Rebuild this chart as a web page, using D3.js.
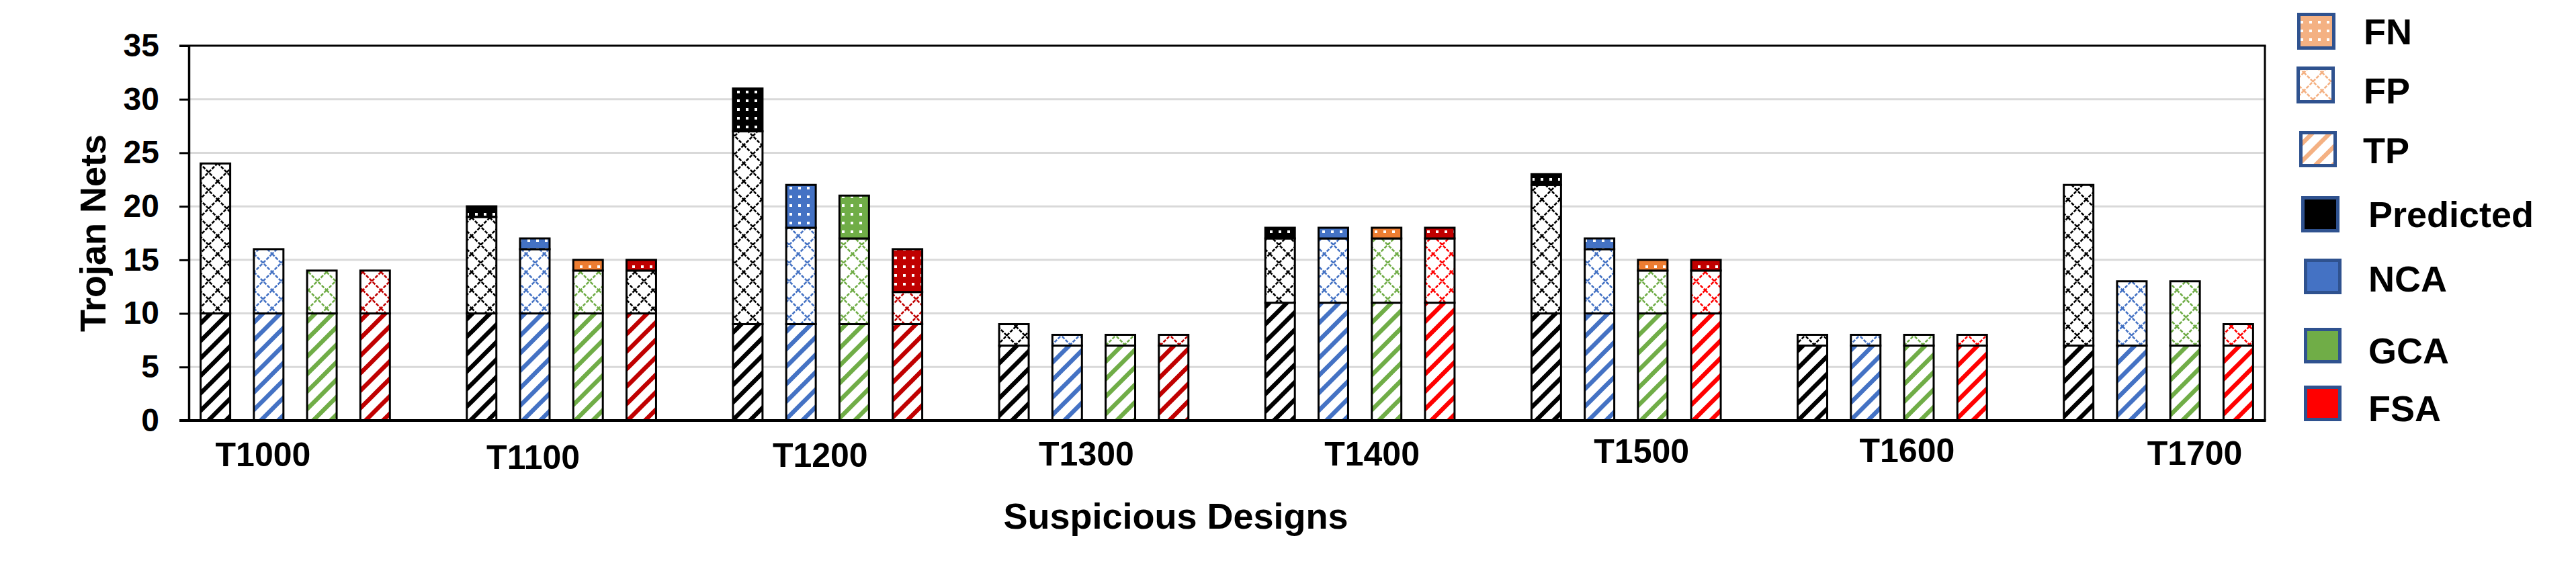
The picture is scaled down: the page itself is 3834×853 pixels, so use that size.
<!DOCTYPE html>
<html><head><meta charset="utf-8">
<script src="https://cdn.jsdelivr.net/npm/d3@7"></script>
<style>
body{margin:0;background:#fff}
svg text{font-family:"Liberation Sans",Arial,Helvetica,sans-serif;font-weight:bold;fill:#000}
</style>
</head><body>
<svg id="chart" width="3834" height="853"></svg>
<script>
// ---------------- DATA ----------------
const designs = ["T1000","T1100","T1200","T1300","T1400","T1500","T1600","T1700"];
const methods = ["Predicted","NCA","GCA","FSA"];
const segments = ["TP","FP","FN"];

const tpPredicted = [10,10,9,7,11,10,7,7];
const fpPredicted = [14,9,18,2,6,12,1,15];
const fnPredicted = [0,1,4,0,1,1,0,0];

const tpNCA = [10,10,9,7,11,10,7,7];
const fpNCA = [6,6,9,1,6,6,1,6];
const fnNCA = [0,1,4,0,1,1,0,0];

const tpGCA = [10,10,9,7,11,10,7,7];
const fpGCA = [4,4,8,1,6,4,1,6];
const fnGCA = [0,1,4,0,1,1,0,0];

const tpFSA = [10,10,9,7,11,10,7,7];
const fpFSA = [4,4,3,1,6,4,1,2];
const fnFSA = [0,1,4,0,1,1,0,0];

const yTicks = [0,5,10,15,20,25,30,35];
const legendLabels = ["FN","FP","TP","Predicted","NCA","GCA","FSA"];
const xTitle = "Suspicious Designs";
const yTitle = "Trojan Nets";

// ---------------- STYLE / LAYOUT ----------------
const methodColor = {Predicted:"#000000", NCA:"#4472C4", GCA:"#70AD47", FSA:"#FF0000"};
const darkRed = "#C00000", orange = "#ED7D31", peach = "#F4B183";
// per-segment colour quirks of the original figure
const colorOverrides = {
  "T1000|FSA|TP":darkRed, "T1000|FSA|FP":darkRed,
  "T1100|FSA|TP":darkRed, "T1100|FSA|FP":"#000000", "T1100|FSA|FN":darkRed,
  "T1200|FSA|TP":darkRed, "T1200|FSA|FP":darkRed, "T1200|FSA|FN":darkRed,
  "T1300|FSA|TP":darkRed, "T1300|FSA|FP":darkRed,
  "T1400|FSA|FN":darkRed, "T1500|FSA|FN":darkRed,
  "T1100|GCA|FN":orange, "T1400|GCA|FN":orange, "T1500|GCA|FN":orange
};
const labelOffsets = [-48,-42,-11,-11,18,23,22,54];
const labelBaselines = [694,698,695,693,693,689,688,692];
const legendBoxes = [
  {x:3419,y:19,w:57,h:55, tx:3518, ty:66},
  {x:3418,y:99,w:57,h:55, tx:3518, ty:154},
  {x:3422,y:195,w:56,h:54, tx:3517, ty:243},
  {x:3425,y:292,w:57,h:54, tx:3525, ty:338},
  {x:3429,y:385,w:56,h:53, tx:3525, ty:434},
  {x:3429,y:488,w:56,h:53, tx:3525, ty:541},
  {x:3429,y:574,w:56,h:53, tx:3525, ty:627}
];

const plot = {left:281, right:3371, top:68, bottom:626};

// ---------------- BUILD ----------------
const seriesTable = {
  Predicted:[tpPredicted,fpPredicted,fnPredicted],
  NCA:[tpNCA,fpNCA,fnNCA],
  GCA:[tpGCA,fpGCA,fnGCA],
  FSA:[tpFSA,fpFSA,fnFSA]
};
const rows = [];
designs.forEach((d,i)=>methods.forEach(m=>{
  const [tp,fp,fn] = seriesTable[m];
  rows.push({key:d+"|"+m, design:d, method:m, TP:tp[i], FP:fp[i], FN:fn[i]});
}));
const slotDomain = [];
designs.forEach((d,i)=>{
  methods.forEach(m=>slotDomain.push(d+"|"+m));
  if(i<designs.length-1) slotDomain.push("gap"+i);
});

const svg = d3.select("#chart");
const defs = svg.append("defs");

const x = d3.scaleBand().domain(slotDomain).range([plot.left,plot.right])
  .paddingInner(0.445).paddingOuter(0.2225);
const y = d3.scaleLinear().domain([0,35]).range([plot.bottom,plot.top]);

// patterns
const patCache = {};
function pattern(type,color){
  const id = "p-"+type+"-"+color.replace("#","");
  if(patCache[id]) return "url(#"+id+")";
  patCache[id]=true;
  if(type==="TP"){
    const s=26;
    const p=defs.append("pattern").attr("id",id).attr("patternUnits","userSpaceOnUse").attr("width",s).attr("height",s);
    p.append("rect").attr("width",s).attr("height",s).attr("fill","#fff");
    p.append("path").attr("d",`M${-s/2},${s/2}L${s/2},${-s/2}M0,${s}L${s},0M${s/2},${1.5*s}L${1.5*s},${s/2}`)
      .attr("stroke",color).attr("stroke-width",6.5);
  } else if(type==="FP"){
    const s=27;
    const p=defs.append("pattern").attr("id",id).attr("patternUnits","userSpaceOnUse").attr("width",s).attr("height",s);
    p.append("rect").attr("width",s).attr("height",s).attr("fill","#fff");
    p.append("path").attr("d",`M0,0L${s},${s}M${s},0L0,${s}`)
      .attr("stroke",color).attr("stroke-width",2.6).attr("stroke-dasharray","5,2");
  } else {
    const s=13;
    const p=defs.append("pattern").attr("id",id).attr("patternUnits","userSpaceOnUse").attr("width",s).attr("height",s);
    p.append("rect").attr("width",s).attr("height",s).attr("fill",color);
    p.append("rect").attr("x",5).attr("y",5).attr("width",4).attr("height",4).attr("fill","#fff");
  }
  return "url(#"+id+")";
}
function segColor(d,seg){
  return colorOverrides[d.design+"|"+d.method+"|"+seg] || methodColor[d.method];
}

// gridlines
svg.append("g").selectAll("line").data(yTicks.filter(t=>t>0&&t<35)).join("line")
  .attr("x1",plot.left).attr("x2",plot.right)
  .attr("y1",d=>y(d)).attr("y2",d=>y(d))
  .attr("stroke","#D9D9D9").attr("stroke-width",3);

// stacked bars
const stack = d3.stack().keys(segments);
const stacked = stack(rows);
const barG = svg.append("g");
stacked.forEach(layer=>{
  const seg = layer.key;
  barG.append("g").selectAll("rect").data(layer.filter(s=>s[1]>s[0])).join("rect")
    .attr("x",s=>x(s.data.key))
    .attr("width",x.bandwidth())
    .attr("y",s=>y(s[1]))
    .attr("height",s=>y(s[0])-y(s[1]))
    .attr("fill",s=>pattern(seg,segColor(s.data,seg)))
    .attr("stroke","#000").attr("stroke-width",3);
});

// frame
svg.append("line").attr("x1",plot.left-14).attr("x2",plot.right+1.5).attr("y1",plot.top).attr("y2",plot.top)
  .attr("stroke","#000").attr("stroke-width",3);
svg.append("line").attr("x1",plot.right).attr("x2",plot.right).attr("y1",plot.top).attr("y2",plot.bottom)
  .attr("stroke","#000").attr("stroke-width",3);

// y axis
const yAxis = d3.axisLeft(y).tickValues(yTicks).tickSize(14).tickSizeOuter(0).tickPadding(30);
const yg = svg.append("g").attr("transform",`translate(${plot.left},0)`).call(yAxis);
yg.select(".domain").attr("stroke","#000").attr("stroke-width",3.5);
yg.selectAll(".tick line").attr("stroke","#000").attr("stroke-width",3);
yg.selectAll(".tick text").attr("font-size",48).attr("font-family",null).attr("fill","#000");

// x baseline
svg.append("line").attr("x1",plot.left-14).attr("x2",plot.right+1.5).attr("y1",plot.bottom).attr("y2",plot.bottom)
  .attr("stroke","#000").attr("stroke-width",4);

// group labels
const groupCenter = d => (x(d+"|Predicted") + x(d+"|FSA") + x.bandwidth())/2;
svg.append("g").selectAll("text").data(designs).join("text")
  .attr("x",(d,i)=>groupCenter(d)+labelOffsets[i])
  .attr("y",(d,i)=>labelBaselines[i])
  .attr("text-anchor","middle").attr("font-size",50).text(d=>d);

// axis titles
svg.append("text").attr("x",1750).attr("y",787).attr("text-anchor","middle").attr("font-size",54).text(xTitle);
svg.append("text").attr("transform","translate(157,347) rotate(-90)").attr("text-anchor","middle").attr("font-size",54).text(yTitle);

// legend
const legendFill = [pattern("FN",peach), pattern("FP",peach), pattern("TP",peach),
  methodColor.Predicted, methodColor.NCA, methodColor.GCA, methodColor.FSA];
const lg = svg.append("g");
legendLabels.forEach((lab,i)=>{
  const b = legendBoxes[i];
  lg.append("rect").attr("x",b.x+2.5).attr("y",b.y+2.5).attr("width",b.w-5).attr("height",b.h-5)
    .attr("fill",legendFill[i]).attr("stroke","#2F528F").attr("stroke-width",5);
  lg.append("text").attr("x",b.tx).attr("y",b.ty).attr("font-size",54).text(lab);
});
</script>
</body></html>
